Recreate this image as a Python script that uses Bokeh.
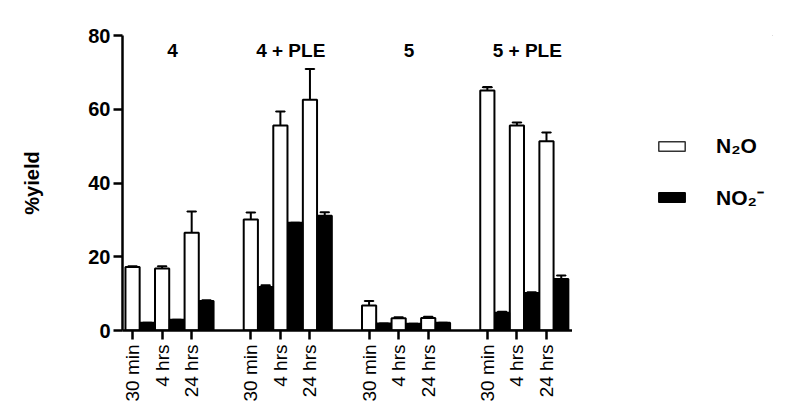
import math
from bokeh.plotting import figure
from bokeh.layouts import row
from bokeh.models import Range1d, FixedTicker, ColumnDataSource, Legend, LegendItem
from bokeh.core.properties import value
from bokeh.embed import file_html
from bokeh.resources import INLINE

# ---- data ----
groups = ["4", "4 + PLE", "5", "5 + PLE"]
times = ["30 min", "4 hrs", "24 hrs"]
n2o = [17.2, 16.8, 26.5, 30.1, 55.6, 62.6, 6.8, 3.3, 3.4, 65.1, 55.6, 51.3]
n2o_err = [0.2, 0.6, 5.8, 1.9, 3.8, 8.3, 1.2, 0.3, 0.3, 0.9, 0.8, 2.4]
no2 = [2.1, 2.9, 8.0, 11.8, 29.2, 31.1, 1.9, 1.8, 2.1, 4.8, 10.2, 14.0]
no2_err = [0.0, 0.0, 0.2, 0.5, 0.0, 1.0, 0.0, 0.0, 0.0, 0.3, 0.2, 0.9]
series_labels = ["N\u2082O", "NO\u2082\u207b"]
y_ticks = [0, 20, 40, 60, 80]

FONT = "Liberation Sans"
BW = 0.48

# ---- positions (group slots of 4, one empty) ----
xw, xb, tick_labels = [], [], {}
for g in range(len(groups)):
    for t in range(len(times)):
        x = g * 4 + t
        xw.append(x)
        xb.append(x + 0.5)
        tick_labels[x] = times[t]

src_w = ColumnDataSource(dict(x=xw, top=n2o, err=[v + e for v, e in zip(n2o, n2o_err)]))
src_b = ColumnDataSource(dict(x=xb, top=no2, err=[v + e for v, e in zip(no2, no2_err)]))

p = figure(width=572, height=404, x_range=Range1d(-0.34, 14.88), y_range=Range1d(0, 80),
           output_backend="svg", toolbar_location=None,
           min_border_left=122, min_border_right=0, min_border_top=35, min_border_bottom=72)
p.outline_line_color = None
p.grid.visible = False
p.background_fill_color = "white"

# error bars (upper only)
for src in (src_w, src_b):
    p.segment(x0="x", x1="x", y0="top", y1="err", source=src, line_color="black", line_width=2)
    p.rect(x="x", y="err", width=0.3, height=0.0001, source=src, line_color="black",
           line_width=2, fill_color=None)

rw = p.vbar(x="x", top="top", width=BW, source=src_w, fill_color="white",
            line_color="black", line_width=2)
rb = p.vbar(x="x", top="top", width=BW, source=src_b, fill_color="black",
            line_color="black", line_width=2)

# group titles
title_x = [g * 4 + 1.35 for g in range(len(groups))]
p.text(x=title_x, y=[76] * len(groups), text=groups, text_align="center",
       text_baseline="middle", text_font=value(FONT), text_font_style="bold",
       text_font_size="19px", text_color="black")

# axes
for ax in (p.xaxis[0], p.yaxis[0]):
    ax.axis_line_width = 2.5
    ax.axis_line_color = "black"
    ax.major_tick_line_width = 2.5
    ax.major_tick_line_color = "black"
    ax.major_tick_out = 9
    ax.major_tick_in = 0
    ax.minor_tick_line_color = None
    ax.major_label_text_font = FONT
    ax.major_label_text_color = "black"

p.yaxis.ticker = FixedTicker(ticks=y_ticks)
p.yaxis.major_label_text_font_size = "20px"
p.yaxis.major_label_text_font_style = "bold"
p.yaxis.major_label_standoff = 3
p.yaxis.axis_label = "%yield"
p.yaxis.axis_label_text_font = FONT
p.yaxis.axis_label_text_font_style = "bold"
p.yaxis.axis_label_text_font_size = "20px"
p.yaxis.axis_label_text_color = "black"
p.yaxis.axis_label_standoff = 42

p.xaxis.ticker = FixedTicker(ticks=xw)
p.xaxis.major_label_overrides = tick_labels
p.xaxis.major_label_orientation = math.pi / 2
p.xaxis.major_label_text_font_size = "19px"
p.xaxis.major_label_standoff = 5

# ---- legend panel ----
q = figure(width=201, height=404, x_range=Range1d(0, 1), y_range=Range1d(0, 1),
           output_backend="svg", toolbar_location=None, x_axis_type=None, y_axis_type=None,
           min_border_left=0, min_border_right=0, min_border_top=35, min_border_bottom=72)
q.outline_line_color = None
q.grid.visible = False
# legend-only renderers (placed outside the visible range)
lw = q.vbar(x=[5], top=[5], bottom=[4], width=BW, fill_color="white",
            line_color="#333333", line_width=1.5)
lb = q.vbar(x=[5], top=[5], bottom=[4], width=BW, fill_color="black",
            line_color="black", line_width=1.5)
legend = Legend(items=[LegendItem(label=series_labels[0], renderers=[lw]),
                       LegendItem(label=series_labels[1], renderers=[lb])],
                location=(83, 119), margin=0, padding=0, glyph_width=33, glyph_height=12,
                label_standoff=28, spacing=25, label_text_font=FONT,
                label_text_font_style="bold", label_text_font_size="21px",
                label_text_color="black", border_line_color=None, background_fill_alpha=0)
q.add_layout(legend)

layout = row(p, q, spacing=0)
open("out.html", "w").write(file_html(layout, INLINE))
